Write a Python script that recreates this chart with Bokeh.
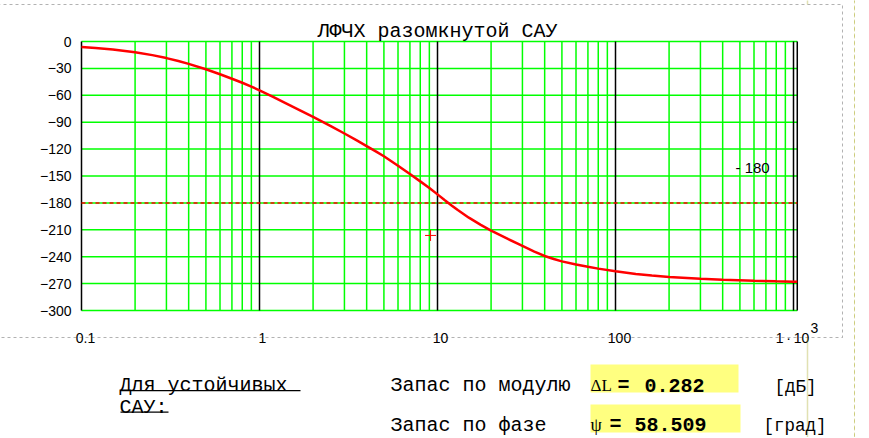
from bokeh.plotting import figure
from bokeh.models import Range1d, Label, BoxAnnotation
from bokeh.core.properties import value
from bokeh.embed import file_html
from bokeh.resources import INLINE

# ---- data ----
freq = [0.1, 0.12, 0.15, 0.2, 0.25, 0.3, 0.35, 0.4, 0.5, 0.6, 0.7, 0.8, 0.9, 1.0,
        1.2, 1.4, 1.7, 2.0, 2.5, 3.0, 3.5, 4.0, 4.5, 5.0, 6.0, 7.0, 8.0, 9.0, 10,
        11, 12, 13, 15, 17.5, 20, 25, 30, 35, 40, 45, 50, 60, 70, 80, 100, 130,
        160, 200, 300, 400, 600, 800, 1000, 1050]
phase = [-6.0, -7.2, -9.0, -12.0, -15.2, -18.5, -21.8, -25.0, -31.0, -36.5, -41.5,
         -46.0, -50.3, -54.4, -62.0, -68.6, -77.0, -84.0, -94.0, -102.6, -110.0,
         -116.7, -122.5, -128.0, -138.5, -147.8, -156.0, -163.3, -170.5, -177.0,
         -182.8, -188.0, -196.5, -204.5, -211.0, -220.5, -228.0, -234.3, -239.2,
         -242.6, -245.2, -248.8, -251.3, -253.3, -256.3, -259.2, -261.0, -262.6,
         -264.6, -265.6, -266.8, -267.4, -267.8, -268.0]
marker_f = [9.14]
marker_phase = [-216.3]
critical_phase = -180

y_ticks = [0, -30, -60, -90, -120, -150, -180, -210, -240, -270, -300]
y_tick_labels = ["0", "\u221230", "\u221260", "\u221290", "\u2212120", "\u2212150",
                 "\u2212180", "\u2212210", "\u2212240", "\u2212270", "\u2212300"]
x_decades = [0.1, 1, 10, 100, 1000]
x_tick_labels = ["0.1", "1", "10", "100", "1\u2009\u00b7\u200910"]
x_minor = [k * d for d in [0.1, 1, 10, 100] for k in range(2, 10)]
X_MIN, X_MAX = 0.1, 1050          # axis limits of the chart
Y_MIN, Y_MAX = -300, 0

title_text = "ЛФЧХ разомкнутой САУ"

# ---- layout / style ----
W, H = 866, 437
PX_X0, PX_PER_DEC = 81, 178        # pixel of x=0.1, pixels per decade
PX_Y0, PX_PER_UNIT = 41, 269 / 300  # pixel of y=0, pixels per degree
x_start = X_MIN * 10 ** (-PX_X0 / PX_PER_DEC)
x_end = X_MIN * 10 ** ((W - PX_X0) / PX_PER_DEC)
y_end = PX_Y0 / PX_PER_UNIT
y_start = -(H - PX_Y0) / PX_PER_UNIT
x_label_shift = [4, 3, 3, 4, -1]

GREEN = "#00FF00"
OLIVE = "#9A9A00"
MONO = "Liberation Mono"
SANS = "Liberation Sans"

p = figure(width=W, height=H, x_axis_type="log",
           x_range=Range1d(x_start, x_end), y_range=Range1d(y_start, y_end),
           x_axis_location=None, y_axis_location=None,
           min_border=0, toolbar_location=None, output_backend="svg", title=None)
p.outline_line_color = None
p.background_fill_color = "white"
p.border_fill_color = "white"
p.xgrid.visible = False
p.ygrid.visible = False

# grid (green) limited to the chart area
p.segment(x0=x_minor, y0=[Y_MIN] * len(x_minor), x1=x_minor, y1=[Y_MAX] * len(x_minor),
          line_color=GREEN, line_width=1.5)
p.segment(x0=[X_MIN] * len(y_ticks), y0=y_ticks, x1=[X_MAX] * len(y_ticks), y1=y_ticks,
          line_color=GREEN, line_width=1.5)
# decade lines and right border (black)
black_x = x_decades + [X_MAX]
p.segment(x0=black_x, y0=[Y_MIN] * len(black_x), x1=black_x, y1=[Y_MAX] * len(black_x),
          line_color="black", line_width=1.5)
# -180 line
p.segment(x0=[X_MIN], y0=[critical_phase], x1=[X_MAX], y1=[critical_phase],
          line_color="red", line_width=1.5, line_dash="4 3")

# tick labels
p.text(x=[X_MIN] * len(y_ticks), y=y_ticks, text=y_tick_labels, x_offset=-10,
       text_align="right", text_baseline="middle", text_font=value(SANS),
       text_font_size="14px", text_color="black")
p.text(x=x_decades, y=[Y_MIN] * len(x_decades), text=x_tick_labels,
       x_offset=x_label_shift, y_offset=27, text_align="center",
       text_baseline="middle", text_font=value(SANS), text_font_size="14px",
       text_color="black")

# curve and marker
p.line(freq, phase, line_color="red", line_width=2.5)
p.scatter(marker_f, marker_phase, marker="cross", size=11, line_color="red", line_width=1)


# screen helpers (screen units are measured from the frame's bottom-left)
def sx(X):
    return X


def sy(Y):
    return H - Y


def box(x0, x1, y0, y1, **kw):
    p.add_layout(BoxAnnotation(left=sx(x0), right=sx(x1), top=sy(y0), bottom=sy(y1),
                               left_units="screen", right_units="screen",
                               top_units="screen", bottom_units="screen", **kw))


def label(X, Y, text, font=MONO, size="20px", style="normal", align="left",
          baseline="alphabetic", color="black"):
    p.add_layout(Label(x=sx(X), y=sy(Y), x_units="screen", y_units="screen",
                       text=text, text_font=font, text_font_size=size,
                       text_font_style=style, text_align=align,
                       text_baseline=baseline, text_color=color))


# region frames
box(-3, 842, 4, 337, fill_color=None, line_color="black", line_width=1, line_dash="3 3")
box(854, 854, -2, 445, fill_color=None, line_color=OLIVE, line_width=1, line_dash="4 3")
box(807, 807, 337, 445, fill_color=None, line_color=OLIVE, line_width=1.5)
box(807, 807, -2, 4, fill_color=None, line_color=OLIVE, line_width=1.5)

# yellow result boxes
box(590, 738, 364, 392, fill_color="#FFFF80", fill_alpha=1, line_color=None)
box(590, 740, 404, 432, fill_color="#FFFF80", fill_alpha=1, line_color=None)

# underlines
box(120, 300, 389.5, 390.8, fill_color="black", fill_alpha=1, line_color=None)
box(120, 168, 411, 412.3, fill_color="black", fill_alpha=1, line_color=None)

# texts
label(317, 31, title_text)
label(735, 167, "- 180", font=SANS, size="15px", baseline="middle")
label(810, 327, "3", font=SANS, size="14px", baseline="middle")
label(119, 385, "Для устойчивых")
label(119, 407, "САУ:")
label(390, 385, "Запас по модулю")
label(390, 425, "Запас по фазе")
label(590, 385, "ΔL", font="Liberation Serif", size="17px")
label(617, 385, "=", style="bold")
label(644, 385, "0.282", style="bold")
label(590, 424, "ψ", font="Liberation Serif", size="18px")
label(609, 424, "=", style="bold")
label(634, 424, "58.509", style="bold")
label(774, 386, "[дБ]", size="17.5px")
label(763, 425, "[град]", size="17.5px")

open("out.html", "w").write(file_html(p, INLINE))
